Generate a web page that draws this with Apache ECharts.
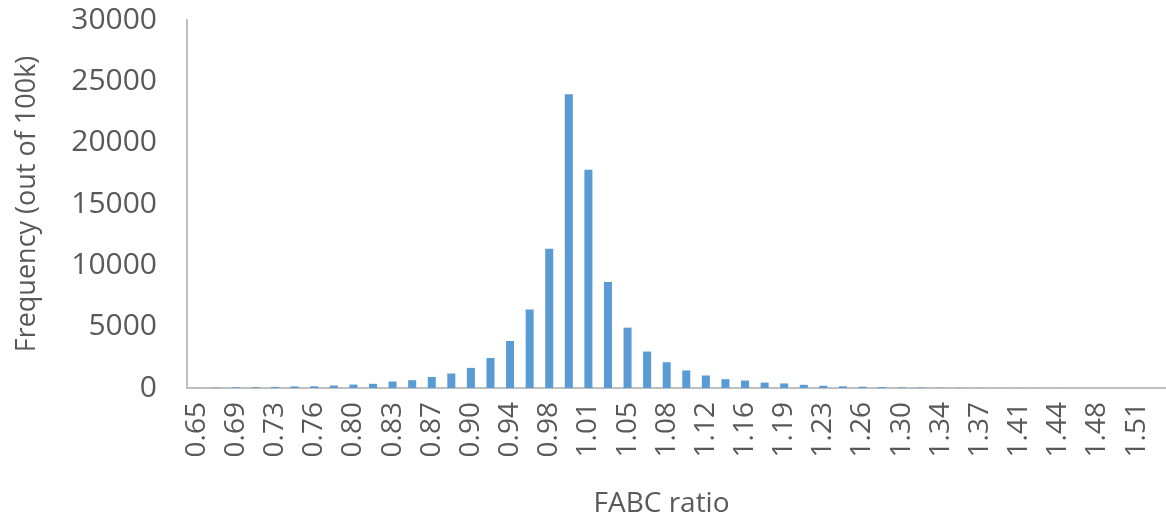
<!DOCTYPE html>
<html>
<head>
<meta charset="utf-8">
<script src="https://cdn.jsdelivr.net/npm/echarts@6/dist/echarts.min.js"></script>
<style>
  html, body { margin: 0; padding: 0; background: #ffffff; }
  #chart { width: 1166px; height: 523px; }
</style>
</head>
<body>
<div id="chart"></div>
<script>
// FABC ratio bins (every other label shown on the axis)
const categories = [
  '0.65','0.67','0.69','0.71','0.73','0.74','0.76','0.78','0.80','0.81',
  '0.83','0.85','0.87','0.89','0.90','0.92','0.94','0.96','0.98','0.99',
  '1.01','1.03','1.05','1.07','1.08','1.10','1.12','1.14','1.16','1.17',
  '1.19','1.21','1.23','1.25','1.26','1.28','1.30','1.32','1.34','1.35',
  '1.37','1.39','1.41','1.43','1.44','1.46','1.48','1.50','1.51','1.53'
];
// Frequency (out of 100k)
const frequency = [
  10, 30, 50, 60, 90, 130, 140, 200, 280, 340,
  530, 640, 900, 1180, 1640, 2450, 3830, 6400, 11350, 23940,
  17800, 8650, 4920, 2970, 2100, 1430, 1020, 720, 610, 440,
  370, 260, 180, 140, 100, 70, 45, 40, 25, 18,
  12, 8, 6, 4, 3, 2, 2, 1, 1, 1
];
const yTicks = { min: 0, max: 30000, interval: 5000 };
const xTitle = 'FABC ratio';
const yTitle = 'Frequency (out of 100k)';

const textColor = '#595959';
const fontFamily = '"Open Sans", "Liberation Sans", sans-serif';

const chart = echarts.init(document.getElementById('chart'), null, { renderer: 'canvas' });
chart.setOption({
  animation: false,
  backgroundColor: '#ffffff',
  grid: { left: 187, right: -5, top: 20, bottom: 133, containLabel: false },
  xAxis: {
    type: 'category',
    data: categories,
    axisLine: { show: true, lineStyle: { color: '#bfbfbf', width: 2 } },
    axisTick: { show: false },
    axisLabel: {
      interval: 1, rotate: 90, margin: 14,
      fontSize: 28, color: textColor, fontFamily: fontFamily
    },
    splitLine: { show: false },
    name: xTitle,
    nameLocation: 'middle',
    nameGap: 102,
    nameTextStyle: { fontSize: 28, color: textColor, fontFamily: fontFamily, padding: [0, 30, 0, 0] }
  },
  yAxis: {
    type: 'value',
    min: yTicks.min, max: yTicks.max, interval: yTicks.interval,
    axisLine: { show: true, lineStyle: { color: '#bfbfbf', width: 2 } },
    axisTick: { show: false },
    splitLine: { show: false },
    axisLabel: {
      margin: 30, fontSize: 30, color: textColor, fontFamily: fontFamily,
      formatter: function (v) { return String(v); }
    },
    name: yTitle,
    nameLocation: 'middle',
    nameGap: 146,
    nameTextStyle: { fontSize: 27, color: textColor, fontFamily: fontFamily }
  },
  series: [{
    type: 'bar',
    data: frequency,
    barWidth: '41%',
    itemStyle: { color: '#5b9bd5' }
  }]
});
</script>
</body>
</html>
